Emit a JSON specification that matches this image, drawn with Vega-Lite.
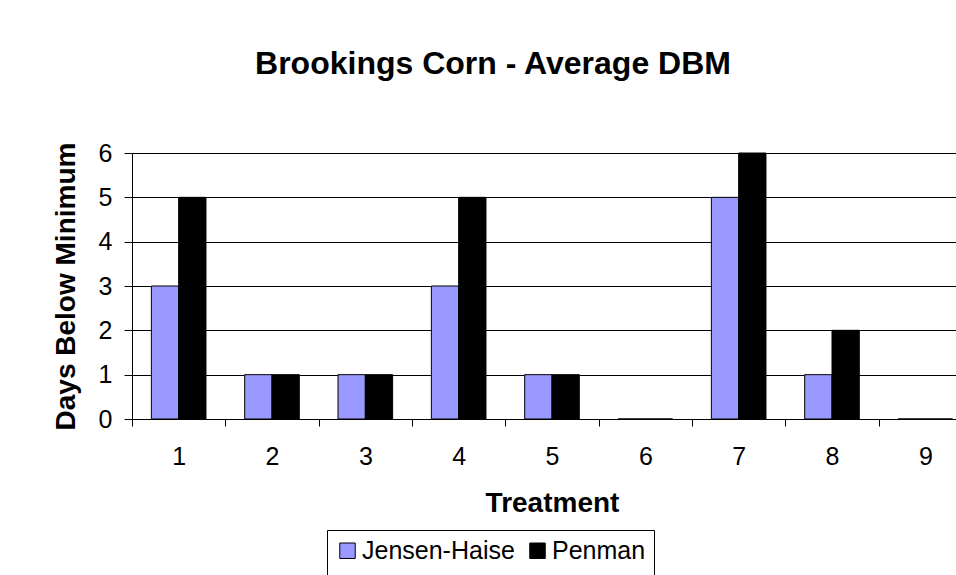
{
  "$schema": "https://vega.github.io/schema/vega-lite/v6.json",
  "autosize": {"type": "none"},
  "padding": {"left": 132, "top": 153, "right": 0, "bottom": 156},
  "width": 824,
  "height": 266,
  "background": "white",
  "config": {
    "view": {"stroke": null},
    "font": "Liberation Sans"
  },
  "title": {
    "text": "Brookings Corn - Average DBM",
    "font": "Liberation Sans",
    "fontSize": 32,
    "fontWeight": "bold",
    "color": "black",
    "anchor": "middle",
    "frame": "group",
    "dx": -51,
    "offset": 60
  },
  "data": {
    "values": [
      {"Treatment": "1", "Method": "Jensen-Haise", "Days": 3},
      {"Treatment": "1", "Method": "Penman", "Days": 5},
      {"Treatment": "2", "Method": "Jensen-Haise", "Days": 1},
      {"Treatment": "2", "Method": "Penman", "Days": 1},
      {"Treatment": "3", "Method": "Jensen-Haise", "Days": 1},
      {"Treatment": "3", "Method": "Penman", "Days": 1},
      {"Treatment": "4", "Method": "Jensen-Haise", "Days": 3},
      {"Treatment": "4", "Method": "Penman", "Days": 5},
      {"Treatment": "5", "Method": "Jensen-Haise", "Days": 1},
      {"Treatment": "5", "Method": "Penman", "Days": 1},
      {"Treatment": "6", "Method": "Jensen-Haise", "Days": 0},
      {"Treatment": "6", "Method": "Penman", "Days": 0},
      {"Treatment": "7", "Method": "Jensen-Haise", "Days": 5},
      {"Treatment": "7", "Method": "Penman", "Days": 6},
      {"Treatment": "8", "Method": "Jensen-Haise", "Days": 1},
      {"Treatment": "8", "Method": "Penman", "Days": 2},
      {"Treatment": "9", "Method": "Jensen-Haise", "Days": 0},
      {"Treatment": "9", "Method": "Penman", "Days": 0}
    ]
  },
  "mark": {"type": "bar", "stroke": "black", "strokeWidth": 1},
  "encoding": {
    "x": {
      "field": "Treatment",
      "type": "nominal",
      "sort": ["1","2","3","4","5","6","7","8","9"],
      "scale": {"range": [0, 840], "paddingInner": 0, "paddingOuter": 0},
      "axis": {
        "title": "Treatment",
        "titleFont": "Liberation Sans",
        "titleFontSize": 28,
        "titleFontWeight": "bold",
        "titleColor": "black",
        "titlePadding": 20,
        "labelFont": "Liberation Sans",
        "labelFontSize": 25,
        "labelColor": "black",
        "labelAngle": 0,
        "labelPadding": 18,
        "tickBand": "extent",
        "tickSize": 7,
        "tickColor": "black",
        "domainColor": "black",
        "grid": false
      }
    },
    "xOffset": {
      "field": "Method",
      "type": "nominal",
      "scale": {"paddingInner": 0, "paddingOuter": 0.709}
    },
    "y": {
      "field": "Days",
      "type": "quantitative",
      "scale": {"domain": [0, 6], "nice": false},
      "axis": {
        "title": "Days Below Minimum",
        "titleFont": "Liberation Sans",
        "titleFontSize": 28,
        "titleFontWeight": "bold",
        "titleColor": "black",
        "titlePadding": 18,
        "values": [0, 1, 2, 3, 4, 5, 6],
        "labelFont": "Liberation Sans",
        "labelFontSize": 25,
        "labelColor": "black",
        "labelPadding": 12,
        "tickSize": 8,
        "tickColor": "black",
        "domainColor": "black",
        "grid": true,
        "gridColor": "black",
        "gridWidth": 1
      }
    },
    "fill": {
      "field": "Method",
      "type": "nominal",
      "scale": {"domain": ["Jensen-Haise", "Penman"], "range": ["#9999FF", "#000000"]},
      "legend": {
        "title": " ",
        "titleOrient": "bottom",
        "titleFontSize": 20,
        "titlePadding": 10,
        "orient": "none",
        "direction": "horizontal",
        "legendX": 195,
        "legendY": 377,
        "symbolType": "square",
        "symbolSize": 240,
        "symbolStrokeColor": "black",
        "symbolStrokeWidth": 1,
        "symbolOpacity": 1,
        "labelFont": "Liberation Sans",
        "labelFontSize": 25,
        "labelColor": "black",
        "labelOffset": 2,
        "columnPadding": 10,
        "padding": 8,
        "strokeColor": "black",
        "fillColor": "white"
      }
    }
  }
}
